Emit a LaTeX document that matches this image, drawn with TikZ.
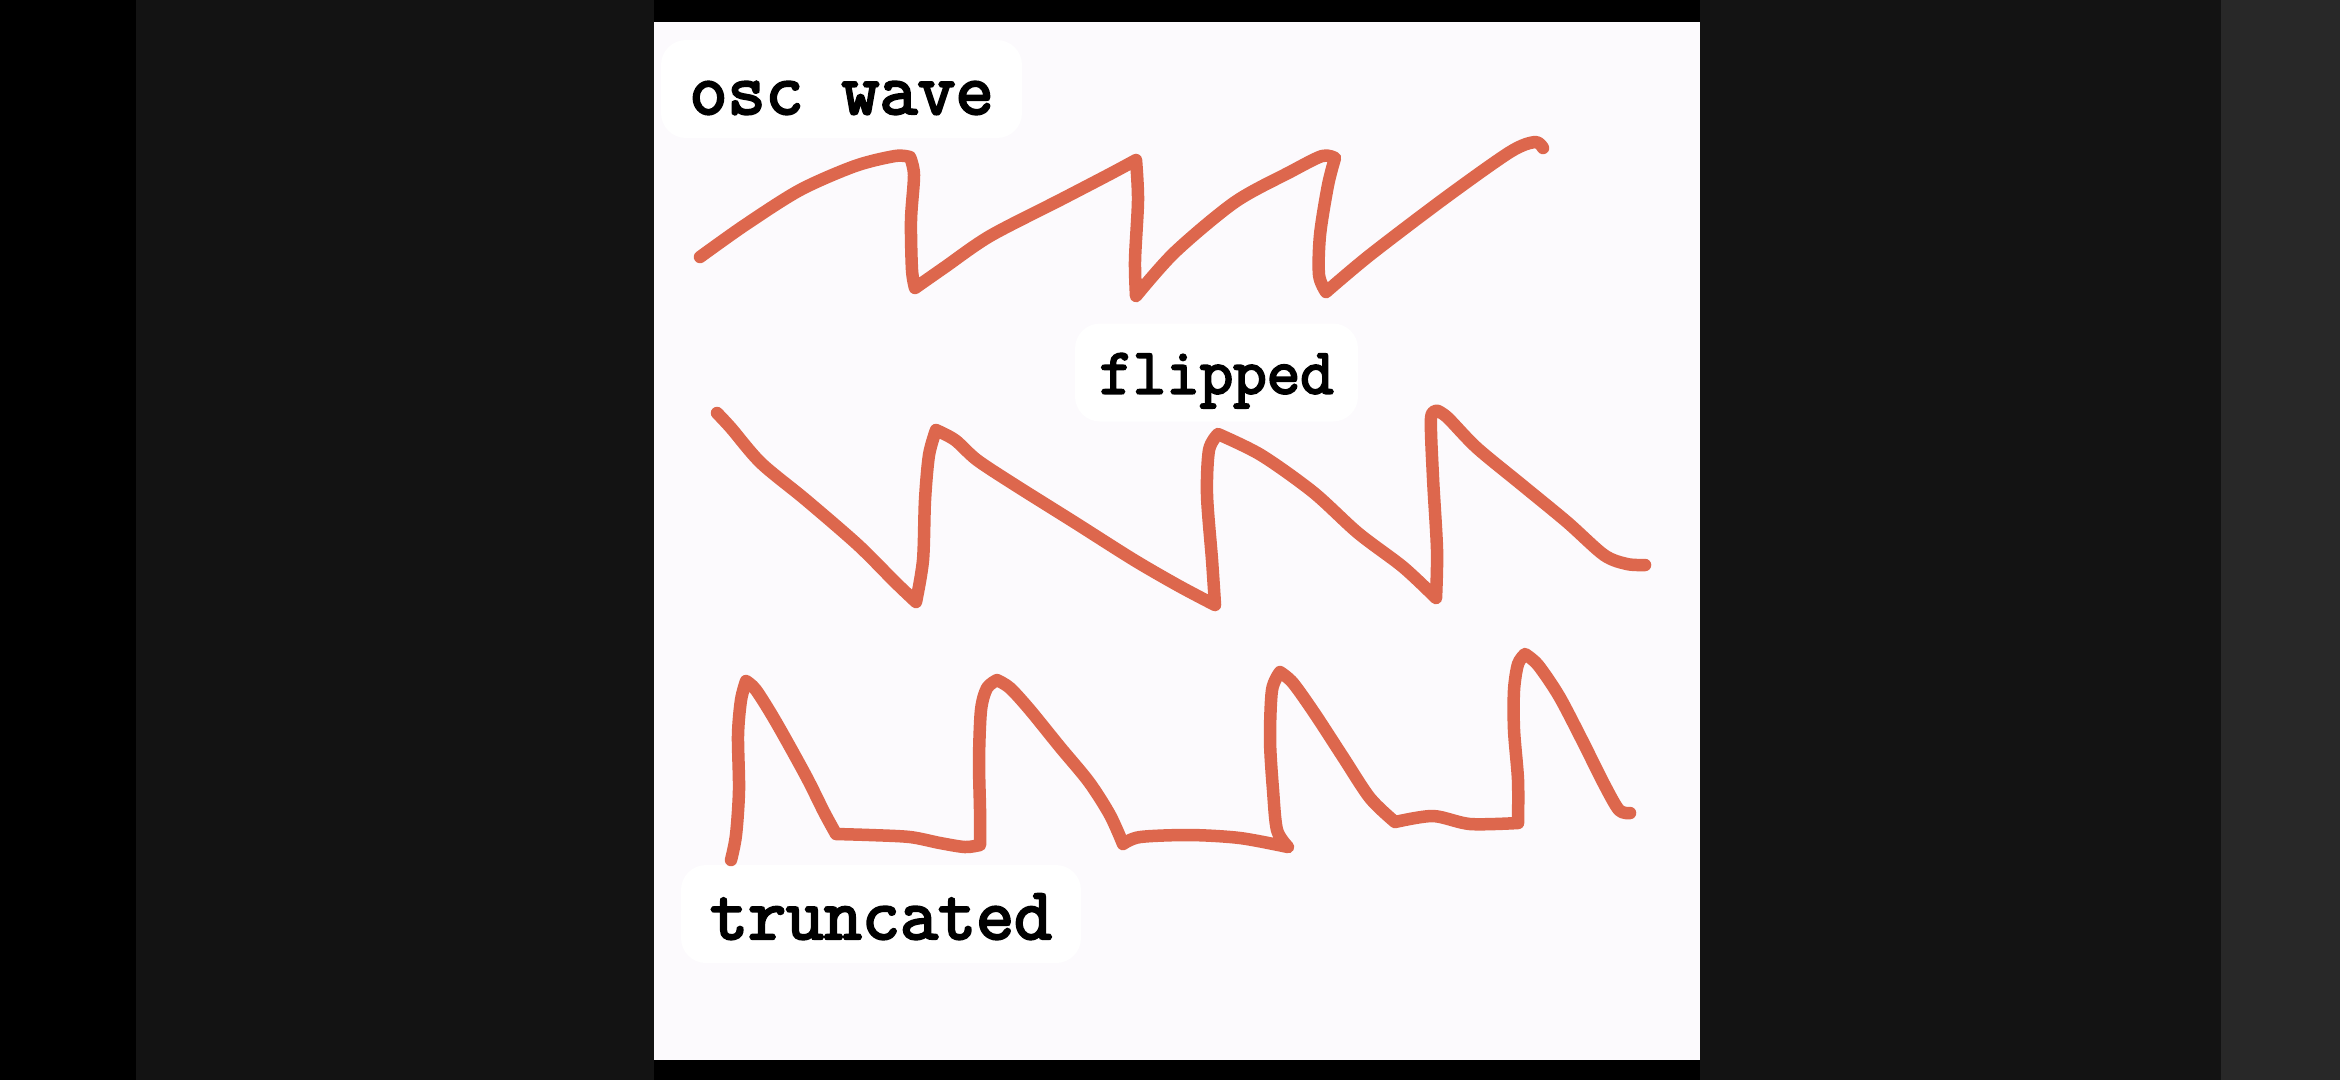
\documentclass[tikz,border=0pt]{standalone}
\usepackage{fontspec}
\usepackage{tikz}
\usetikzlibrary{positioning}

\newfontfamily\etfont{Latin Modern Mono}[AutoFakeBold=3.2]

\definecolor{sfondo}{HTML}{131313}
\definecolor{bordo}{HTML}{282828}
\definecolor{foglio}{HTML}{FCFAFD}
\definecolor{arancio}{HTML}{DD674D}

\tikzset{
  etichetta/.style={fill=white, rounded corners=2.5mm, minimum height=9.8mm, inner sep=0pt,
    text height=5mm, text depth=0pt, font=\etfont\bfseries\fontsize{21}{24}\selectfont},
  onda/.style={draw=arancio, line width=1.25mm, line cap=round, line join=round}
}

\begin{document}
\begin{tikzpicture}[x=0.1mm, y=-0.1mm]
        % Sfondo
        \fill[black] (0,0) rectangle (2340,1080);
        \fill[sfondo] (136,0) rectangle (2221,1080);
        \fill[bordo] (2221,0) rectangle (2340,1080);
        \fill[black] (654,0) rectangle (1700,1080);
        \fill[foglio] (654,22) rectangle (1700,1060);

        % Etichette
        \node[etichetta, minimum width=36.1mm] (A) at (841.5,89) {osc wave};
        \node[etichetta, minimum width=28.3mm, text height=4.2mm,
              font=\etfont\bfseries\fontsize{18.5}{21}\selectfont] (B) at (1216.5,372.5) {flipped};
        \node[etichetta, minimum width=40mm] (C) at (881,914) {truncated};

        % Onda
        \draw[onda] plot[smooth] coordinates {(700,257) (745,225) (800,190) (855,166) (895,156) (910,157)}
          -- plot[smooth] coordinates {(910,157) (914,175) (911,220) (912,270) (915,288)}
          -- plot[smooth] coordinates {(915,288) (945,267) (990,236) (1060,200) (1110,174) (1136,160)}
          -- plot[smooth] coordinates {(1136,160) (1138,200) (1135,260) (1136,296)}
          -- plot[smooth] coordinates {(1136,296) (1175,252) (1235,202) (1290,172) (1322,156) (1335,158)}
          -- plot[smooth] coordinates {(1335,158) (1328,185) (1320,235) (1319,275) (1326,292)}
          -- plot[smooth] coordinates {(1326,292) (1370,255) (1445,198) (1510,152) (1535,142) (1543,148)};

        % Onda capovolta
        \draw[onda] plot[smooth] coordinates {(717,413) (731,428) (761,463) (806,500) (858,545) (895,582) (916,602)}
          -- plot[smooth] coordinates {(916,602) (923,560) (925,500) (929,455) (936,430)}
          -- plot[smooth] coordinates {(936,430) (955,440) (977,460) (1015,485) (1074,522) (1134,560) (1179,586) (1215,605)}
          -- plot[smooth] coordinates {(1215,605) (1212,560) (1207,495) (1209,450) (1218,434)}
          -- plot[smooth] coordinates {(1218,434) (1261,455) (1313,492) (1358,533) (1403,567) (1436,598)}
          -- plot[smooth] coordinates {(1436,598) (1437,550) (1433,478) (1431,418) (1438,411)}
          -- plot[smooth] coordinates {(1438,411) (1448,418) (1477,448) (1522,485) (1567,522) (1604,555) (1627,564) (1645,565)};

        % Onda troncata
        \draw[onda] plot[smooth] coordinates {(731,860) (736,835) (739,790) (738,735) (741,700) (746,681)}
          -- plot[smooth] coordinates {(746,681) (756,690) (776,722) (806,776) (824,812) (836,834)}
          -- plot[smooth] coordinates {(836,834) (870,835) (910,837) (940,843) (965,847) (980,845)}
          -- plot[smooth] coordinates {(980,845) (980,810) (979,760) (981,710) (987,688) (997,680)}
          -- plot[smooth] coordinates {(997,680) (1010,688) (1030,710) (1060,747) (1089,782) (1110,815) (1123,844)}
          -- plot[smooth] coordinates {(1123,844) (1140,837) (1190,835) (1240,838) (1288,847)}
          -- plot[smooth] coordinates {(1288,847) (1277,830) (1273,790) (1270,740) (1272,690) (1280,672)}
          -- plot[smooth] coordinates {(1280,672) (1293,683) (1315,714) (1343,757) (1370,798) (1395,822)}
          -- plot[smooth] coordinates {(1395,822) (1433,816) (1470,824) (1518,823)}
          -- plot[smooth] coordinates {(1518,823) (1518,780) (1514,730) (1514,690) (1518,664) (1525,654)}
          -- plot[smooth] coordinates {(1525,654) (1538,665) (1559,696) (1582,740) (1604,784) (1619,810) (1630,813)};
    \end{tikzpicture}
\end{document}
